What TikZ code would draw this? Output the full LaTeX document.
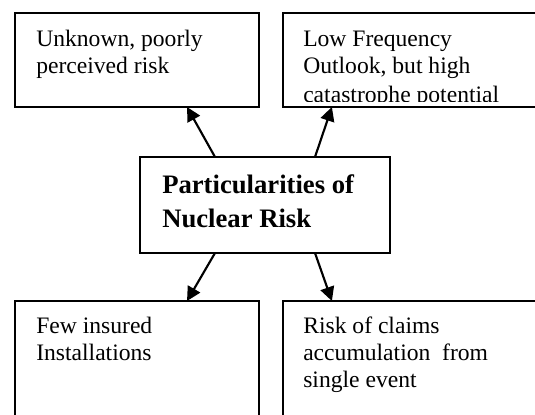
\documentclass[tikz,border=0pt]{standalone}
\usepackage{fontspec}
\setmainfont{Liberation Serif}
\usetikzlibrary{arrows.meta,calc}
\begin{document}
\begin{tikzpicture}[x=0.75pt,y=-0.75pt,
  box/.style={draw,line width=1.3pt,rectangle,inner sep=0pt,outer sep=0pt,anchor=north west},
  txt/.style={anchor=base west,inner sep=0pt,font=\fontsize{17.7}{20}\selectfont},
  btxt/.style={anchor=base west,inner sep=0pt,font=\fontsize{20}{24}\selectfont\bfseries},
  arr/.style={line width=1.6pt,-{Triangle[length=10.5pt,width=10.5pt]}}]
\useasboundingbox (0,0) rectangle (535,414);
\clip (0,0) rectangle (535,414);
% boxes
\node[box,minimum width=183pt,minimum height=70.5pt] (tl) at (15,13) {};
\node[box,minimum width=225pt,minimum height=70.5pt] (tr) at (283,13) {};
\node[box,minimum width=187.5pt,minimum height=72pt] (c) at (140,157) {};
\node[box,minimum width=183pt,minimum height=150pt] (bl) at (15,301) {};
\node[box,minimum width=225pt,minimum height=150pt] (br) at (283,301) {};
% texts
\node[txt] (tl1) at (36,46.5) {Unknown, poorly};
\node[txt] (tl2) at (36,73) {perceived risk};
\node[txt] (tr1) at (303,46.5) {Low Frequency};
\node[txt] (tr2) at (303,73) {Outlook, but high};
\begin{scope}
\clip (283,13) rectangle (535,101);
\node[txt] (tr3) at (303,102) {catastrophe potential};
\end{scope}
\node[btxt] (c1) at (162,193) {Particularities of};
\node[btxt] (c2) at (162,227) {Nuclear Risk};
\node[txt] (bl1) at (36,333) {Few insured};
\node[txt] (bl2) at (36,360) {Installations};
\node[txt] (br1) at (303,333) {Risk of claims};
\node[txt] (br2) at (303,360.5) {accumulation\ \ from};
\node[txt] (br3) at (303,387.5) {single event};
% arrows
\draw[arr] ($(c.north west)!0.3!(c.north east)$) -- ($(tl.south west)!0.705!(tl.south east)$);
\draw[arr] ($(c.north west)!0.7!(c.north east)$) -- ($(tr.south west)!0.163!(tr.south east)$);
\draw[arr] ($(c.south west)!0.3!(c.south east)$) -- ($(bl.north west)!0.705!(bl.north east)$);
\draw[arr] ($(c.south west)!0.7!(c.south east)$) -- ($(br.north west)!0.163!(br.north east)$);
\end{tikzpicture}
\end{document}
